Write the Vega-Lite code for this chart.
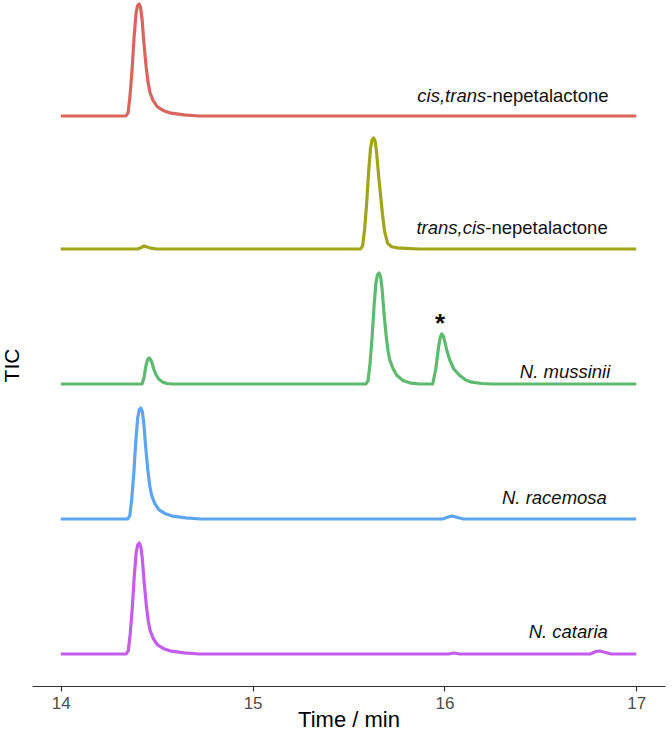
{
  "$schema": "https://vega.github.io/schema/vega-lite/v6.json",
  "width": 633,
  "height": 686,
  "autosize": {"type": "none"},
  "padding": {"left": 32, "top": 0, "right": 7, "bottom": 49},
  "background": "white",
  "config": {"view": {"stroke": null}, "font": "Liberation Sans"},
  "datasets": {
    "traces": [
      {"series": "cis,trans", "time": 14.0, "tic": 570},
      {"series": "cis,trans", "time": 14.340, "tic": 570},
      {"series": "cis,trans", "time": 14.351, "tic": 573.4},
      {"series": "cis,trans", "time": 14.361, "tic": 590.2},
      {"series": "cis,trans", "time": 14.372, "tic": 617.0},
      {"series": "cis,trans", "time": 14.382, "tic": 648.4},
      {"series": "cis,trans", "time": 14.392, "tic": 671.9},
      {"series": "cis,trans", "time": 14.400, "tic": 680.3},
      {"series": "cis,trans", "time": 14.408, "tic": 682},
      {"series": "cis,trans", "time": 14.416, "tic": 678.6},
      {"series": "cis,trans", "time": 14.424, "tic": 666.3},
      {"series": "cis,trans", "time": 14.434, "tic": 641.7},
      {"series": "cis,trans", "time": 14.445, "tic": 619.3},
      {"series": "cis,trans", "time": 14.455, "tic": 603.6},
      {"series": "cis,trans", "time": 14.465, "tic": 593.5},
      {"series": "cis,trans", "time": 14.481, "tic": 585.7},
      {"series": "cis,trans", "time": 14.502, "tic": 579.5},
      {"series": "cis,trans", "time": 14.533, "tic": 575.6},
      {"series": "cis,trans", "time": 14.575, "tic": 572.8},
      {"series": "cis,trans", "time": 14.643, "tic": 571.1},
      {"series": "cis,trans", "time": 14.721, "tic": 570},
      {"series": "cis,trans", "time": 17.0, "tic": 570},

      {"series": "trans,cis", "time": 14.0, "tic": 437},
      {"series": "trans,cis", "time": 14.400, "tic": 437},
      {"series": "trans,cis", "time": 14.420, "tic": 438.5},
      {"series": "trans,cis", "time": 14.434, "tic": 440},
      {"series": "trans,cis", "time": 14.450, "tic": 439},
      {"series": "trans,cis", "time": 14.470, "tic": 437.8},
      {"series": "trans,cis", "time": 14.500, "tic": 437},
      {"series": "trans,cis", "time": 15.563, "tic": 437},
      {"series": "trans,cis", "time": 15.574, "tic": 440.3},
      {"series": "trans,cis", "time": 15.584, "tic": 457.0},
      {"series": "trans,cis", "time": 15.595, "tic": 483.6},
      {"series": "trans,cis", "time": 15.605, "tic": 514.7},
      {"series": "trans,cis", "time": 15.615, "tic": 538.0},
      {"series": "trans,cis", "time": 15.623, "tic": 546.3},
      {"series": "trans,cis", "time": 15.631, "tic": 548},
      {"series": "trans,cis", "time": 15.639, "tic": 544.7},
      {"series": "trans,cis", "time": 15.647, "tic": 532.5},
      {"series": "trans,cis", "time": 15.657, "tic": 510.3},
      {"series": "trans,cis", "time": 15.668, "tic": 489.2},
      {"series": "trans,cis", "time": 15.678, "tic": 470.3},
      {"series": "trans,cis", "time": 15.688, "tic": 454.8},
      {"series": "trans,cis", "time": 15.704, "tic": 442.6},
      {"series": "trans,cis", "time": 15.725, "tic": 439.2},
      {"series": "trans,cis", "time": 15.756, "tic": 438.1},
      {"series": "trans,cis", "time": 15.798, "tic": 437.6},
      {"series": "trans,cis", "time": 15.866, "tic": 437},
      {"series": "trans,cis", "time": 17.0, "tic": 437},

      {"series": "N. mussinii", "time": 14.0, "tic": 302},
      {"series": "N. mussinii", "time": 14.424, "tic": 302},
      {"series": "N. mussinii", "time": 14.434, "tic": 308.5},
      {"series": "N. mussinii", "time": 14.444, "tic": 320.2},
      {"series": "N. mussinii", "time": 14.452, "tic": 326.2},
      {"series": "N. mussinii", "time": 14.460, "tic": 328},
      {"series": "N. mussinii", "time": 14.468, "tic": 326.7},
      {"series": "N. mussinii", "time": 14.476, "tic": 322.8},
      {"series": "N. mussinii", "time": 14.486, "tic": 316.3},
      {"series": "N. mussinii", "time": 14.497, "tic": 311.1},
      {"series": "N. mussinii", "time": 14.512, "tic": 306.7},
      {"series": "N. mussinii", "time": 14.533, "tic": 303.8},
      {"series": "N. mussinii", "time": 14.554, "tic": 302.5},
      {"series": "N. mussinii", "time": 14.585, "tic": 302},
      {"series": "N. mussinii", "time": 15.591, "tic": 302},
      {"series": "N. mussinii", "time": 15.602, "tic": 305.3},
      {"series": "N. mussinii", "time": 15.612, "tic": 322.0},
      {"series": "N. mussinii", "time": 15.623, "tic": 348.6},
      {"series": "N. mussinii", "time": 15.633, "tic": 379.7},
      {"series": "N. mussinii", "time": 15.643, "tic": 403.0},
      {"series": "N. mussinii", "time": 15.651, "tic": 411.3},
      {"series": "N. mussinii", "time": 15.659, "tic": 413},
      {"series": "N. mussinii", "time": 15.667, "tic": 409.7},
      {"series": "N. mussinii", "time": 15.675, "tic": 397.5},
      {"series": "N. mussinii", "time": 15.685, "tic": 373.0},
      {"series": "N. mussinii", "time": 15.696, "tic": 350.8},
      {"series": "N. mussinii", "time": 15.706, "tic": 335.3},
      {"series": "N. mussinii", "time": 15.716, "tic": 325.3},
      {"series": "N. mussinii", "time": 15.732, "tic": 317.5},
      {"series": "N. mussinii", "time": 15.753, "tic": 310.4},
      {"series": "N. mussinii", "time": 15.784, "tic": 305.6},
      {"series": "N. mussinii", "time": 15.826, "tic": 302.8},
      {"series": "N. mussinii", "time": 15.870, "tic": 302},
      {"series": "N. mussinii", "time": 15.939, "tic": 302},
      {"series": "N. mussinii", "time": 15.955, "tic": 317},
      {"series": "N. mussinii", "time": 15.970, "tic": 339.5},
      {"series": "N. mussinii", "time": 15.978, "tic": 348.5},
      {"series": "N. mussinii", "time": 15.986, "tic": 352},
      {"series": "N. mussinii", "time": 15.994, "tic": 350},
      {"series": "N. mussinii", "time": 16.002, "tic": 344.5},
      {"series": "N. mussinii", "time": 16.012, "tic": 336},
      {"series": "N. mussinii", "time": 16.028, "tic": 326},
      {"series": "N. mussinii", "time": 16.049, "tic": 317},
      {"series": "N. mussinii", "time": 16.080, "tic": 310.5},
      {"series": "N. mussinii", "time": 16.111, "tic": 306},
      {"series": "N. mussinii", "time": 16.142, "tic": 303.8},
      {"series": "N. mussinii", "time": 16.195, "tic": 302.5},
      {"series": "N. mussinii", "time": 16.247, "tic": 302},
      {"series": "N. mussinii", "time": 17.0, "tic": 302},

      {"series": "N. racemosa", "time": 14.0, "tic": 167},
      {"series": "N. racemosa", "time": 14.349, "tic": 167},
      {"series": "N. racemosa", "time": 14.360, "tic": 170.3},
      {"series": "N. racemosa", "time": 14.370, "tic": 187.0},
      {"series": "N. racemosa", "time": 14.381, "tic": 213.6},
      {"series": "N. racemosa", "time": 14.391, "tic": 244.7},
      {"series": "N. racemosa", "time": 14.401, "tic": 268.0},
      {"series": "N. racemosa", "time": 14.409, "tic": 276.3},
      {"series": "N. racemosa", "time": 14.417, "tic": 278},
      {"series": "N. racemosa", "time": 14.425, "tic": 274.7},
      {"series": "N. racemosa", "time": 14.433, "tic": 262.5},
      {"series": "N. racemosa", "time": 14.443, "tic": 238.0},
      {"series": "N. racemosa", "time": 14.454, "tic": 215.8},
      {"series": "N. racemosa", "time": 14.464, "tic": 200.3},
      {"series": "N. racemosa", "time": 14.474, "tic": 190.3},
      {"series": "N. racemosa", "time": 14.490, "tic": 182.5},
      {"series": "N. racemosa", "time": 14.511, "tic": 176.4},
      {"series": "N. racemosa", "time": 14.542, "tic": 172.6},
      {"series": "N. racemosa", "time": 14.584, "tic": 169.8},
      {"series": "N. racemosa", "time": 14.652, "tic": 168.1},
      {"series": "N. racemosa", "time": 14.730, "tic": 167},
      {"series": "N. racemosa", "time": 15.990, "tic": 167},
      {"series": "N. racemosa", "time": 16.020, "tic": 169},
      {"series": "N. racemosa", "time": 16.040, "tic": 170},
      {"series": "N. racemosa", "time": 16.070, "tic": 168.5},
      {"series": "N. racemosa", "time": 16.100, "tic": 167},
      {"series": "N. racemosa", "time": 17.0, "tic": 167},

      {"series": "N. cataria", "time": 14.0, "tic": 32},
      {"series": "N. cataria", "time": 14.341, "tic": 32},
      {"series": "N. cataria", "time": 14.352, "tic": 35.3},
      {"series": "N. cataria", "time": 14.362, "tic": 52.0},
      {"series": "N. cataria", "time": 14.373, "tic": 78.6},
      {"series": "N. cataria", "time": 14.383, "tic": 109.7},
      {"series": "N. cataria", "time": 14.393, "tic": 133.0},
      {"series": "N. cataria", "time": 14.401, "tic": 141.3},
      {"series": "N. cataria", "time": 14.409, "tic": 143},
      {"series": "N. cataria", "time": 14.417, "tic": 139.7},
      {"series": "N. cataria", "time": 14.425, "tic": 127.5},
      {"series": "N. cataria", "time": 14.435, "tic": 103.0},
      {"series": "N. cataria", "time": 14.446, "tic": 80.8},
      {"series": "N. cataria", "time": 14.456, "tic": 65.3},
      {"series": "N. cataria", "time": 14.466, "tic": 55.3},
      {"series": "N. cataria", "time": 14.482, "tic": 47.5},
      {"series": "N. cataria", "time": 14.503, "tic": 41.4},
      {"series": "N. cataria", "time": 14.534, "tic": 37.6},
      {"series": "N. cataria", "time": 14.576, "tic": 34.8},
      {"series": "N. cataria", "time": 14.644, "tic": 33.1},
      {"series": "N. cataria", "time": 14.722, "tic": 32},
      {"series": "N. cataria", "time": 16.020, "tic": 32},
      {"series": "N. cataria", "time": 16.050, "tic": 33},
      {"series": "N. cataria", "time": 16.080, "tic": 32},
      {"series": "N. cataria", "time": 16.760, "tic": 32},
      {"series": "N. cataria", "time": 16.790, "tic": 34.5},
      {"series": "N. cataria", "time": 16.810, "tic": 35},
      {"series": "N. cataria", "time": 16.840, "tic": 33.5},
      {"series": "N. cataria", "time": 16.870, "tic": 32},
      {"series": "N. cataria", "time": 17.0, "tic": 32}
    ],
    "italicRight": [
      {"label": "cis,trans", "time": 16.218, "tic": 584},
      {"label": "trans,cis", "time": 16.213, "tic": 452},
      {"label": "N. mussinii", "time": 16.865, "tic": 308},
      {"label": "N. racemosa", "time": 16.847, "tic": 182},
      {"label": "N. cataria", "time": 16.852, "tic": 48}
    ],
    "plainLeft": [
      {"label": "-nepetalactone", "time": 16.218, "tic": 584},
      {"label": "-nepetalactone", "time": 16.213, "tic": 452}
    ],
    "marks": [
      {"label": "*", "time": 15.977, "tic": 354}
    ]
  },
  "layer": [
    {
      "data": {"name": "traces"},
      "mark": {"type": "line", "strokeWidth": 3.2, "strokeJoin": "round"},
      "encoding": {
        "x": {
          "field": "time", "type": "quantitative",
          "scale": {"domain": [13.85, 17.15], "nice": false, "zero": false},
          "axis": {
            "title": "Time / min", "values": [14, 15, 16, 17], "format": "d",
            "grid": false, "domainColor": "#333333", "domainWidth": 1.2,
            "tickColor": "#333333", "tickWidth": 1.2, "tickSize": 5,
            "labelColor": "#4d4d4d", "labelFontSize": 17, "labelPadding": 4,
            "titleFontSize": 22, "titleFontWeight": "normal", "titleColor": "#000000",
            "titleY": 33, "titleBaseline": "middle"
          }
        },
        "y": {
          "field": "tic", "type": "quantitative",
          "scale": {"domain": [0, 686], "nice": false, "zero": false},
          "axis": {
            "title": "TIC", "domain": false, "ticks": false, "labels": false, "grid": false,
            "titleFontSize": 21, "titleFontWeight": "normal", "titleColor": "#000000",
            "titleX": -20, "titleY": 365, "titleAngle": -90, "titleAlign": "center", "titleBaseline": "middle"
          }
        },
        "color": {
          "field": "series", "type": "nominal",
          "scale": {
            "domain": ["cis,trans", "trans,cis", "N. mussinii", "N. racemosa", "N. cataria"],
            "range": ["#D8665E", "#A0A51C", "#5DBA6F", "#5CA6F0", "#C45DEB"]
          },
          "legend": null
        }
      }
    },
    {
      "data": {"name": "italicRight"},
      "mark": {"type": "text", "align": "right", "baseline": "alphabetic", "fontSize": 18.5, "fontStyle": "italic", "color": "#111111"},
      "encoding": {
        "x": {"field": "time", "type": "quantitative"},
        "y": {"field": "tic", "type": "quantitative"},
        "text": {"field": "label"}
      }
    },
    {
      "data": {"name": "plainLeft"},
      "mark": {"type": "text", "align": "left", "baseline": "alphabetic", "fontSize": 18.5, "color": "#111111"},
      "encoding": {
        "x": {"field": "time", "type": "quantitative"},
        "y": {"field": "tic", "type": "quantitative"},
        "text": {"field": "label"}
      }
    },
    {
      "data": {"name": "marks"},
      "mark": {"type": "text", "align": "center", "baseline": "alphabetic", "fontSize": 26, "fontWeight": "bold", "color": "#111111"},
      "encoding": {
        "x": {"field": "time", "type": "quantitative"},
        "y": {"field": "tic", "type": "quantitative"},
        "text": {"field": "label"}
      }
    }
  ]
}
